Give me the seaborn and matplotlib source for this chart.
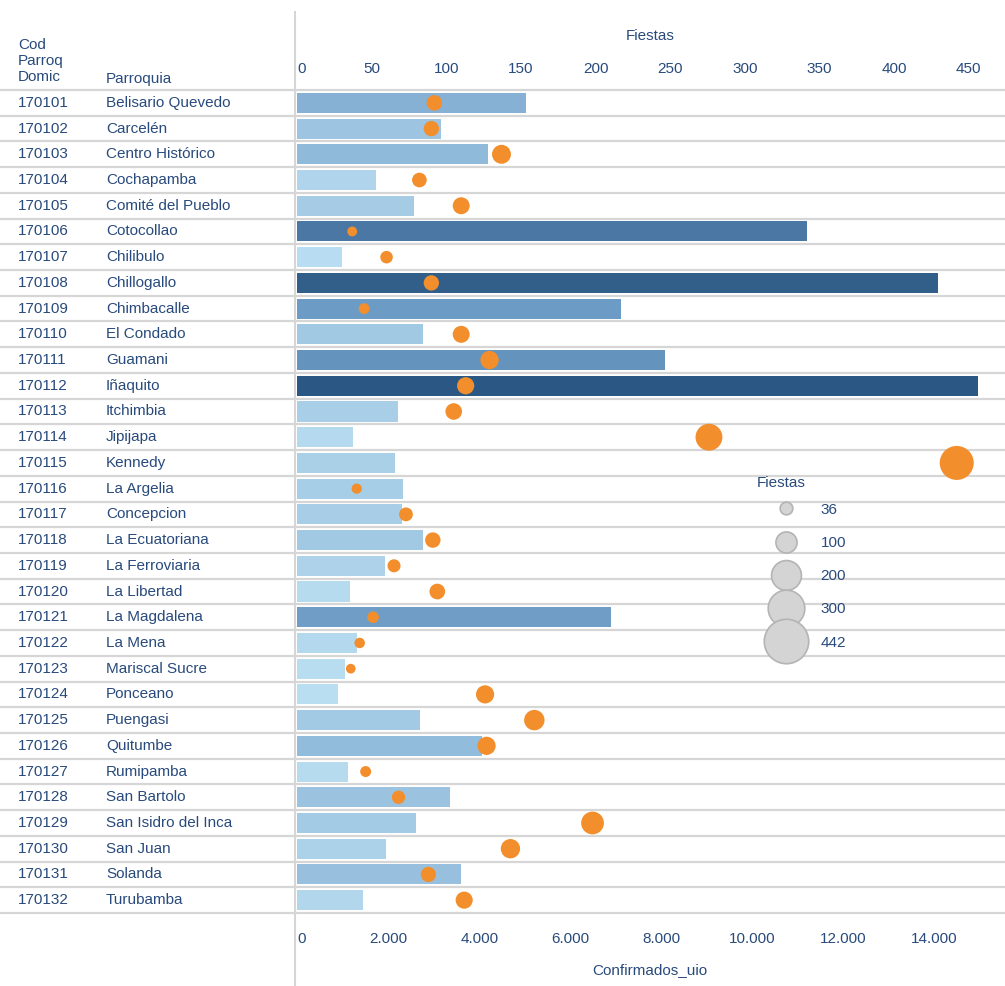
import numpy as np
import pandas as pd
import seaborn as sns
import matplotlib.pyplot as plt
from matplotlib.colors import LinearSegmentedColormap, Normalize
from matplotlib.lines import Line2D
from matplotlib.ticker import FuncFormatter
import matplotlib.transforms as mtransforms

# Data
codes = [
    "170101", "170102", "170103", "170104", "170105", "170106", "170107", "170108",
    "170109", "170110", "170111", "170112", "170113", "170114", "170115", "170116",
    "170117", "170118", "170119", "170120", "170121", "170122", "170123", "170124",
    "170125", "170126", "170127", "170128", "170129", "170130", "170131", "170132",
]
parroquias = [
    "Belisario Quevedo", "Carcelén", "Centro Histórico", "Cochapamba",
    "Comité del Pueblo", "Cotocollao", "Chilibulo", "Chillogallo",
    "Chimbacalle", "El Condado", "Guamani", "Iñaquito",
    "Itchimbia", "Jipijapa", "Kennedy", "La Argelia",
    "Concepcion", "La Ecuatoriana", "La Ferroviaria", "La Libertad",
    "La Magdalena", "La Mena", "Mariscal Sucre", "Ponceano",
    "Puengasi", "Quitumbe", "Rumipamba", "San Bartolo",
    "San Isidro del Inca", "San Juan", "Solanda", "Turubamba",
]
confirmados = [
    5030, 3170, 4200, 1740, 2570, 11190, 990, 14070,
    7120, 2770, 8070, 14950, 2220, 1230, 2150, 2330,
    2310, 2770, 1930, 1170, 6900, 1320, 1060, 900,
    2700, 4070, 1120, 3360, 2620, 1960, 3600, 1450,
]
fiestas = [
    92, 90, 137, 82, 110, 37, 60, 90,
    45, 110, 129, 113, 105, 276, 442, 40,
    73, 91, 65, 94, 51, 42, 36, 126,
    159, 127, 46, 68, 198, 143, 88, 112,
]
legend_values = [36, 100, 200, 300, 442]

text_blue = "#284a7c"
orange = "#f28e2b"
line_grey = "#d6d6d6"

df = pd.DataFrame({
    "Cod": codes,
    "Parroquia": parroquias,
    "Confirmados_uio": confirmados,
    "Fiestas": fiestas,
})
df["pos"] = np.arange(len(df))

plt.rcParams["font.family"] = ["Liberation Sans", "DejaVu Sans"]

fig = plt.figure(figsize=(10.05, 9.86), dpi=100)
W, H = 1005, 986
ax = fig.add_axes([297 / W, 1 - 913 / H, (1003 - 297) / W, (913 - 90) / H])

# Bar colours: Tableau-like sequential blue
cmap = LinearSegmentedColormap.from_list(
    "tab_blue", [(0, "#b9ddf1"), (0.45, "#6b9ac4"), (1, "#2a5783")]
)
norm = Normalize(vmin=min(confirmados), vmax=max(confirmados))
bar_colors = [cmap(norm(v)) for v in confirmados]

sns.barplot(
    data=df,
    x="Confirmados_uio",
    y="Cod",
    hue="Cod",
    palette=bar_colors,
    order=codes,
    orient="h",
    width=0.78,
    saturation=1,
    legend=False,
    ax=ax,
)
ax.set_xlim(0, 15500)
ax.set_ylim(len(codes) - 0.5, -0.5)

# Circles on the top axis
ax2 = ax.twiny()
k = 600 / 442
sns.scatterplot(
    data=df,
    x="Fiestas",
    y="pos",
    size="Fiestas",
    sizes=(min(fiestas) * k, max(fiestas) * k),
    size_norm=(min(fiestas), max(fiestas)),
    color=orange,
    edgecolor="none",
    alpha=1,
    legend=False,
    ax=ax2,
    zorder=3,
)
ax2.set_xlim(0, 473)
ax2.set_ylim(len(codes) - 0.5, -0.5)

# Axes styling
for a in (ax, ax2):
    for s in a.spines.values():
        s.set_visible(False)
    a.set_ylabel("")
    a.set_yticks([])
    a.patch.set_visible(False)

ax.set_xticks(np.arange(0, 14001, 2000))
ax.xaxis.set_major_formatter(FuncFormatter(lambda v, p: f"{int(v):,}".replace(",", ".")))
ax.tick_params(axis="x", length=0, pad=14, labelsize=11, labelcolor=text_blue)
ax.set_xlabel("Confirmados_uio", fontsize=11, color=text_blue, labelpad=12)

ax2.set_xticks(np.arange(0, 451, 50))
ax2.tick_params(axis="x", length=0, pad=10, labelsize=11, labelcolor=text_blue)
ax2.set_xlabel("Fiestas", fontsize=11, color=text_blue, labelpad=16)

# Row separators across the whole figure
trans = mtransforms.blended_transform_factory(fig.transFigure, ax.transData)
for r in np.arange(-0.5, len(codes)):
    fig.add_artist(Line2D([0, 1], [r, r], transform=trans, color=line_grey,
                          linewidth=1.6, zorder=0))

# Vertical divider between table and chart
fig.add_artist(Line2D([295 / W, 295 / W], [0, 1 - 12 / H], transform=fig.transFigure,
                      color=line_grey, linewidth=1.5))

# Table columns
for i, (c, p) in enumerate(zip(codes, parroquias)):
    fig.text(18 / W, i, c, transform=trans, fontsize=11, color=text_blue,
             va="center", ha="left")
    fig.text(106 / W, i, p, transform=trans, fontsize=11, color=text_blue,
             va="center", ha="left")

fig.text(18 / W, 1 - 84 / H, "Cod\nParroq\nDomic", fontsize=11, color=text_blue,
         va="bottom", ha="left", linespacing=1.2)
fig.text(106 / W, 1 - 86 / H, "Parroquia", fontsize=11, color=text_blue,
         va="bottom", ha="left")

# Size legend
fig.text(757 / W, 1 - 483 / H, "Fiestas", fontsize=11, color=text_blue,
         va="center", ha="left")
k_leg = 32 ** 2 / 442
handles = [
    Line2D([], [], marker="o", linestyle="", markersize=np.sqrt(k_leg * v),
           markerfacecolor="#d4d4d4", markeredgecolor="#b4b4b4", markeredgewidth=1.2)
    for v in legend_values
]
leg = fig.legend(
    handles, [str(v) for v in legend_values],
    loc="upper left",
    bbox_to_anchor=(760 / W, 1 - 495 / H),
    bbox_transform=fig.transFigure,
    frameon=False,
    fontsize=11,
    labelspacing=1.26,
    handlelength=2.4,
    handletextpad=-0.6,
    borderpad=0,
)
for t in leg.get_texts():
    t.set_color(text_blue)
renderer = fig.canvas.get_renderer()
shift = max(t.get_window_extent(renderer).width for t in leg.get_texts())
for t in leg.get_texts():
    t.set_ha("right")
    t.set_position((shift, 0))

# Tableau nudges the zero labels inside the pane
fig.canvas.draw()
for a in (ax, ax2):
    a.get_xticklabels()[0].set_ha("left")

fig.savefig("out.png", dpi=100)
